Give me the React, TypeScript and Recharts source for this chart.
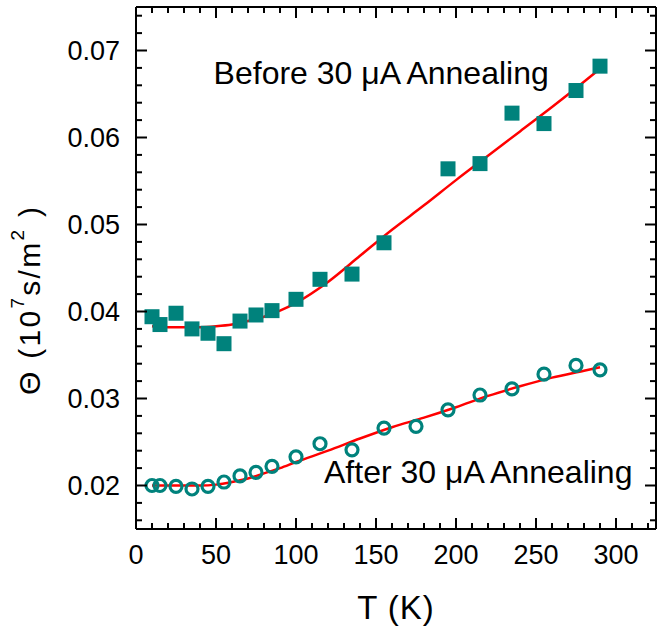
import React from 'react';
import {
  ComposedChart,
  Line,
  Scatter,
  XAxis,
  YAxis,
  ReferenceDot,
  ReferenceLine,
} from 'recharts';

const tBefore = [10, 15, 25, 35, 45, 55, 65, 75, 85, 100, 115, 135, 155, 195, 215, 235, 255, 275, 290];
const thetaBefore = [
  0.0394, 0.0385, 0.0398, 0.038, 0.0375, 0.0363, 0.0389, 0.0396, 0.0401, 0.0414, 0.0437, 0.0443,
  0.0479, 0.0564, 0.057, 0.0628, 0.0616, 0.0654, 0.0682,
];

const tAfter = [10, 15, 25, 35, 45, 55, 65, 75, 85, 100, 115, 135, 155, 175, 195, 215, 235, 255, 275, 290];
const thetaAfter = [
  0.02, 0.02, 0.0199, 0.0196, 0.0199, 0.0204, 0.0211, 0.0215, 0.0222, 0.0233, 0.0248, 0.0241,
  0.0266, 0.0268, 0.0287, 0.0304, 0.0311, 0.0328, 0.0338, 0.0333,
];

const tFit = [10, 20, 30, 40, 50, 60, 70, 80, 90, 100, 120, 140, 160, 180, 200, 220, 240, 260, 280, 290];
const fitBefore = [
  0.0383, 0.0382, 0.0382, 0.0382, 0.0383, 0.0385, 0.0389, 0.0394, 0.0401, 0.041, 0.0434, 0.0464,
  0.0494, 0.0522, 0.0551, 0.0579, 0.0607, 0.0635, 0.0664, 0.0679,
];
const fitAfter = [
  0.02, 0.02, 0.02, 0.02, 0.0201, 0.0204, 0.0208, 0.0214, 0.022, 0.0227, 0.024, 0.0254,
  0.0267, 0.0278, 0.029, 0.0303, 0.0314, 0.0324, 0.0332, 0.0336,
];

// every tick position (major ones get a label)
const xTicks = [
  0, 10, 20, 30, 40, 50, 60, 70, 80, 90, 100, 110, 120, 130, 140, 150, 160, 170, 180, 190, 200,
  210, 220, 230, 240, 250, 260, 270, 280, 290, 300, 310, 320,
];
const yTicks = [
  0.016, 0.018, 0.02, 0.022, 0.024, 0.026, 0.028, 0.03, 0.032, 0.034, 0.036, 0.038, 0.04, 0.042,
  0.044, 0.046, 0.048, 0.05, 0.052, 0.054, 0.056, 0.058, 0.06, 0.062, 0.064, 0.066, 0.068, 0.07,
  0.072, 0.074,
];

const X_MIN = 0;
const X_MAX = 325;
const Y_MIN = 0.015;
const Y_MAX = 0.075;

const W = 659;
const H = 627;
const MARGIN = { top: 7, right: 3, bottom: 0, left: 0 };
const PLOT_TOP = MARGIN.top;
const PLOT_RIGHT = W - MARGIN.right;

const before = tBefore.map((t, i) => ({ t, v: thetaBefore[i] }));
const after = tAfter.map((t, i) => ({ t, v: thetaAfter[i] }));
const fitB = tFit.map((t, i) => ({ t, v: fitBefore[i] }));
const fitA = tFit.map((t, i) => ({ t, v: fitAfter[i] }));

const TEAL = '#00827c';
const FONT = '"Liberation Sans", Arial, sans-serif';

const Square = (p: any) => <rect x={p.cx - 7.5} y={p.cy - 7.5} width={15} height={15} fill={TEAL} />;
const Ring = (p: any) => (
  <circle cx={p.cx} cy={p.cy} r={6} fill="none" stroke={TEAL} strokeWidth={3.2} />
);

// inward ticks on both opposite edges, label only on the major ones
const XTick = (p: any) => {
  const v = p.payload.value;
  const major = v % 50 === 0;
  const len = major ? 11 : 6;
  return (
    <g>
      <line x1={p.x} x2={p.x} y1={p.y} y2={p.y - len} stroke="#000" strokeWidth={2} />
      <line x1={p.x} x2={p.x} y1={PLOT_TOP} y2={PLOT_TOP + len} stroke="#000" strokeWidth={2} />
      {major && (
        <text x={p.x} y={p.y + 16} dy="0.71em" textAnchor="middle" fontSize={27} fontFamily={FONT} fill="#000">
          {v}
        </text>
      )}
    </g>
  );
};

const YTick = (p: any) => {
  const v = p.payload.value;
  const major = Math.abs(v * 100 - Math.round(v * 100)) < 1e-6;
  const len = major ? 11 : 6;
  return (
    <g>
      <line x1={p.x} x2={p.x + len} y1={p.y} y2={p.y} stroke="#000" strokeWidth={2} />
      <line x1={PLOT_RIGHT} x2={PLOT_RIGHT - len} y1={p.y} y2={p.y} stroke="#000" strokeWidth={2} />
      {major && (
        <text x={p.x - 16} y={p.y} dy="0.36em" textAnchor="end" fontSize={27} fontFamily={FONT} fill="#000">
          {v.toFixed(2)}
        </text>
      )}
    </g>
  );
};

const annot = (text: string) => (p: any) => (
  <text x={p.cx} y={p.cy} fontSize={32} fontFamily={FONT} fill="#000">
    {text}
  </text>
);

const YTitle = () => (
  <text
    x={29}
    y={301}
    transform="rotate(-90 29 301)"
    textAnchor="middle"
    dominantBaseline="central"
    fontSize={30}
    fontFamily={FONT}
    fill="#000"
    textLength={188}
    lengthAdjust="spacing"
  >
    Θ (10
    <tspan fontSize={19} dy={-12}>7</tspan>
    <tspan dy={12}>s/m</tspan>
    <tspan fontSize={19} dy={-12}>2</tspan>
    <tspan dy={12}> )</tspan>
  </text>
);

const axisStroke = { stroke: '#000', strokeWidth: 2 };

export default function App() {
  return (
    <div style={{ position: 'absolute', left: 0, top: 0, width: W, height: H, background: '#fff' }}>
      <ComposedChart width={W} height={H} margin={MARGIN}>
        <XAxis xAxisId="b" orientation="bottom" type="number" dataKey="t" domain={[X_MIN, X_MAX]} ticks={xTicks}
          interval={0} allowDataOverflow height={98} tick={<XTick />} axisLine={axisStroke} tickLine={false}
          tickSize={0} tickMargin={0}
          label={{ value: 'T (K)', position: 'insideBottom', offset: 8, fontSize: 33, fontFamily: FONT, fill: '#000', letterSpacing: 1 }} />
        <YAxis yAxisId="l" orientation="left" type="number" domain={[Y_MIN, Y_MAX]} ticks={yTicks}
          interval={0} allowDataOverflow width={136} tick={<YTick />} axisLine={axisStroke} tickLine={false}
          tickSize={0} tickMargin={0} label={<YTitle />} />

        <ReferenceLine xAxisId="b" yAxisId="l" y={Y_MAX} stroke="#000" strokeWidth={2} />
        <ReferenceLine xAxisId="b" yAxisId="l" x={X_MAX} stroke="#000" strokeWidth={2} />

        <Scatter xAxisId="b" yAxisId="l" data={before} dataKey="v" shape={Square} isAnimationActive={false} />
        <Scatter xAxisId="b" yAxisId="l" data={after} dataKey="v" shape={Ring} isAnimationActive={false} />

        <Line xAxisId="b" yAxisId="l" data={fitB} dataKey="v" type="monotone" stroke="#ff0000"
          strokeWidth={2.5} dot={false} activeDot={false} isAnimationActive={false} />
        <Line xAxisId="b" yAxisId="l" data={fitA} dataKey="v" type="monotone" stroke="#ff0000"
          strokeWidth={2.5} dot={false} activeDot={false} isAnimationActive={false} />

        <ReferenceDot xAxisId="b" yAxisId="l" x={48.5} y={0.0662} r={0}
          shape={annot('Before 30 μA Annealing')} />
        <ReferenceDot xAxisId="b" yAxisId="l" x={117.5} y={0.0203} r={0}
          shape={annot('After 30 μA Annealing')} />
      </ComposedChart>
    </div>
  );
}
